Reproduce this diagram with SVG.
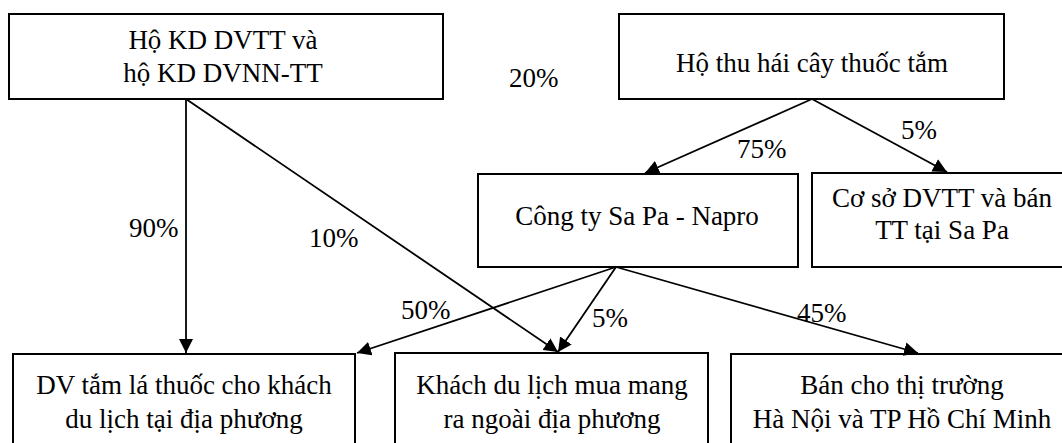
<svg xmlns="http://www.w3.org/2000/svg" width="1062" height="443" viewBox="0 0 1062 443">
<style>
.box{fill:#fff;stroke:#000;stroke-width:2}
.c{fill:none;stroke:#000;stroke-width:1.8;marker-end:url(#ah)}
</style>
<defs>
<marker id="ah" markerUnits="userSpaceOnUse" markerWidth="14" markerHeight="14" refX="14" refY="7" orient="auto">
<path d="M0,0 L14,7 L0,14 z" fill="#000"/>
</marker>
</defs>
<rect width="1062" height="443" fill="#fff"/>
<g font-family="Liberation Serif" font-size="27" fill="#000">
<g id="n1">
<rect class="box" x="9" y="14" width="434" height="85"/>
<text text-anchor="middle" x="223" y="49">Hộ KD DVTT và</text>
<text text-anchor="middle" x="223" y="82">hộ KD DVNN-TT</text>
</g>
<g id="n2">
<rect class="box" x="619" y="14" width="385" height="85"/>
<text text-anchor="middle" x="812" y="72">Hộ thu hái cây thuốc tắm</text>
</g>
<g id="n3">
<rect class="box" x="478" y="174" width="320" height="93"/>
<text text-anchor="middle" x="637" y="225">Công ty Sa Pa - Napro</text>
</g>
<g id="n4">
<rect class="box" x="812" y="173" width="262" height="94"/>
<text text-anchor="middle" x="942" y="207">Cơ sở DVTT và bán</text>
<text text-anchor="middle" x="942" y="239">TT tại Sa Pa</text>
</g>
<g id="n5">
<rect class="box" x="13" y="354" width="342" height="100"/>
<text text-anchor="middle" x="184" y="394">DV tắm lá thuốc cho khách</text>
<text text-anchor="middle" x="184" y="428">du lịch tại địa phương</text>
</g>
<g id="n6">
<rect class="box" x="395" y="353" width="313" height="100"/>
<text text-anchor="middle" x="552" y="394">Khách du lịch mua mang</text>
<text text-anchor="middle" x="552" y="428">ra ngoài địa phương</text>
</g>
<g id="n7">
<rect class="box" x="731" y="354" width="342" height="100"/>
<text text-anchor="middle" x="902" y="394">Bán cho thị trường</text>
<text text-anchor="middle" x="902" y="428">Hà Nội và TP Hồ Chí Minh</text>
</g>
<g id="connectors">
<line class="c" x1="186" y1="99" x2="186" y2="353"/>
<line class="c" x1="186" y1="99" x2="558" y2="352"/>
<line class="c" x1="812" y1="99" x2="645" y2="173"/>
<line class="c" x1="812" y1="99" x2="947" y2="172"/>
<line class="c" x1="616" y1="267" x2="357" y2="353"/>
<line class="c" x1="616" y1="267" x2="558" y2="352"/>
<line class="c" x1="616" y1="267" x2="918" y2="353"/>
</g>
<g id="labels">
<text x="129" y="237">90%</text>
<text x="309" y="247">10%</text>
<text x="509" y="87">20%</text>
<text x="737" y="158">75%</text>
<text x="901" y="139">5%</text>
<text x="401" y="319">50%</text>
<text x="592" y="327">5%</text>
<text x="797" y="322">45%</text>
</g>
</g>
</svg>
